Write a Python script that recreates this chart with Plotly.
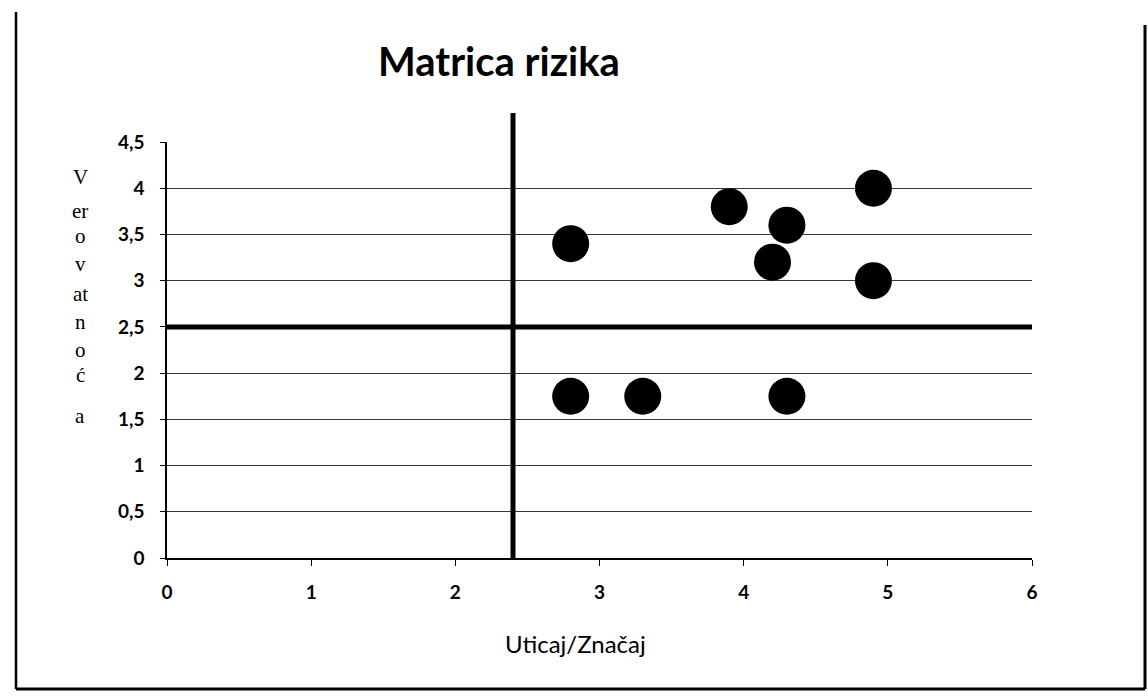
import plotly.graph_objects as go

# ---- data ----
impact = [2.8, 3.9, 4.3, 4.2, 4.9, 4.9, 2.8, 3.3, 4.3]
probability = [3.4, 3.8, 3.6, 3.2, 4.0, 3.0, 1.75, 1.75, 1.75]
x_tick_values = [0, 1, 2, 3, 4, 5, 6]
y_tick_values = [0, 0.5, 1, 1.5, 2, 2.5, 3, 3.5, 4, 4.5]
y_tick_labels = ["0", "0,5", "1", "1,5", "2", "2,5", "3", "3,5", "4", "4,5"]
impact_threshold = 2.4
probability_threshold = 2.5
chart_title = "Matrica rizika"
x_axis_title = "Uticaj/Značaj"
y_axis_title_parts = ["V", "er", "o", "v", "at", "n", "o", "ć", "a"]

# ---- layout geometry (pixels) ----
W, H = 1148, 697
L, R, T, B = 167, 116, 142, 139
PW = W - L - R
PH = H - T - B


def px(x):
    return (x - L) / PW


def py(y):
    return (H - B - y) / PH


SANS = "Lato, 'Liberation Sans', Arial, sans-serif"
SERIF = "'Liberation Serif', 'Times New Roman', serif"

fig = go.Figure()
fig.add_trace(go.Scatter(
    x=impact, y=probability, mode="markers",
    marker=dict(size=37, color="black", line=dict(width=0)),
    showlegend=False, hoverinfo="x+y",
))

fig.update_layout(
    width=W, height=H,
    margin=dict(l=L, r=R, t=T, b=B),
    paper_bgcolor="white", plot_bgcolor="white",
    font=dict(family=SANS, color="black"),
    xaxis=dict(
        range=[0, 6], tickvals=x_tick_values,
        showgrid=False, zeroline=False,
        showline=True, linecolor="black", linewidth=1.5,
        ticks="outside", ticklen=6, tickcolor="black", tickwidth=1,
        tickfont=dict(family=SANS, size=19, color="black", weight="bold"),
        ticklabelstandoff=10,
    ),
    yaxis=dict(
        range=[0, 4.5], tickvals=y_tick_values, ticktext=y_tick_labels,
        showgrid=True, gridcolor="#3a3a3a", gridwidth=1, zeroline=False,
        showline=True, linecolor="black", linewidth=1.5,
        ticks="outside", ticklen=5, tickcolor="black", tickwidth=1,
        tickfont=dict(family=SANS, size=19, color="black", weight="bold"),
        ticklabelstandoff=12,
    ),
)

shapes = [
    # quadrant lines
    dict(type="line", xref="x", yref="y", x0=0, x1=6,
         y0=probability_threshold, y1=probability_threshold,
         line=dict(color="black", width=5)),
    dict(type="line", xref="x", yref="paper", x0=impact_threshold, x1=impact_threshold,
         y0=0, y1=py(113), line=dict(color="black", width=5)),
    # outer frame (left, bottom, right)
    dict(type="line", xref="paper", yref="paper", x0=px(16), x1=px(16), y0=py(12), y1=py(689),
         line=dict(color="black", width=2.5)),
    dict(type="line", xref="paper", yref="paper", x0=px(16), x1=px(1145), y0=py(689), y1=py(689),
         line=dict(color="black", width=3)),
    dict(type="line", xref="paper", yref="paper", x0=px(1145), x1=px(1145), y0=py(25), y1=py(689),
         line=dict(color="black", width=3)),
]
fig.update_layout(shapes=shapes)

annotations = [
    dict(text=chart_title, xref="paper", yref="paper", x=px(499), y=py(61),
         xanchor="center", yanchor="middle", showarrow=False,
         font=dict(family=SANS, size=40, color="black", weight="bold")),
    dict(text=x_axis_title, xref="paper", yref="paper", x=px(575), y=py(643),
         xanchor="center", yanchor="middle", showarrow=False,
         font=dict(family=SANS, size=24, color="black")),
]
y_title_positions = [177, 211, 236, 264, 294, 322, 350, 375, 416]
for part, ypos in zip(y_axis_title_parts, y_title_positions):
    annotations.append(dict(
        text=part, xref="paper", yref="paper", x=px(80), y=py(ypos),
        xanchor="center", yanchor="middle", showarrow=False,
        font=dict(family=SERIF, size=21, color="black"),
    ))
fig.update_layout(annotations=annotations)

fig.write_html("out.html", config={"displayModeBar": False},
               post_script="document.body.style.margin='0px';")
